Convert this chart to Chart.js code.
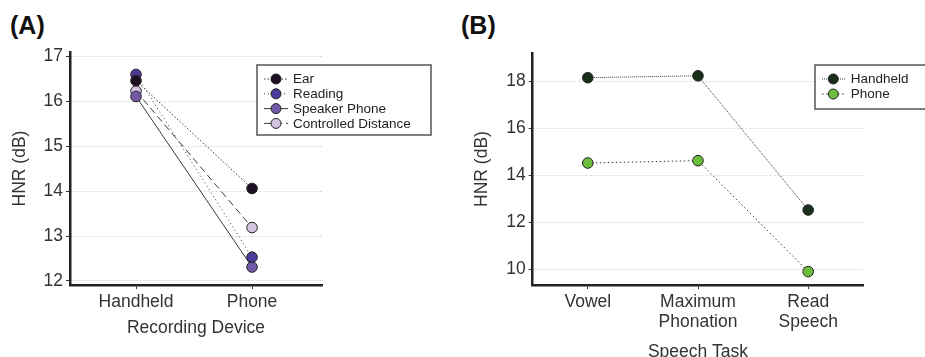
<!DOCTYPE html>
<html><head><meta charset="utf-8">
<script src="https://cdn.jsdelivr.net/npm/chart.js@4"></script>
<style>
html,body{margin:0;padding:0;background:#fff;overflow:hidden;width:925px;height:357px;position:relative}
.wrap{position:absolute;top:0}
.lbl{position:absolute;top:11px;line-height:24px;font:bold 25px "Liberation Sans",Arial,sans-serif;color:#111}
</style></head><body>
<div class="lbl" style="left:10px">(A)</div>
<div class="lbl" style="left:461px">(B)</div>
<div class="wrap" style="left:0;width:450px;height:380px"><canvas id="a"></canvas></div>
<div class="wrap" style="left:450px;width:475px;height:380px"><canvas id="b"></canvas></div>
<script>
// ---- data ----
const categoriesA = ['Handheld', 'Phone'];
const earA = [16.46, 14.06];
const readingA = [16.60, 12.53];
const speakerA = [16.11, 12.31];
const controlledA = [16.23, 13.19];
const seriesNamesA = ['Ear', 'Reading', 'Speaker Phone', 'Controlled Distance'];
const yTicksA = [12, 13, 14, 15, 16, 17];

const categoriesB = [['Vowel'], ['Maximum', 'Phonation'], ['Read', 'Speech']];
const handheldB = [18.15, 18.23, 12.52];
const phoneB = [14.52, 14.62, 9.90];
const seriesNamesB = ['Handheld', 'Phone'];
const yTicksB = [10, 12, 14, 16, 18];

// ---- styling ----
const FONT = '"Liberation Sans", Arial, sans-serif';
const TXT = '#333';
Chart.defaults.font.family = FONT;
Chart.defaults.color = TXT;

const boxLegend = {
  id: 'boxLegend',
  afterDraw(chart, args, o) {
    const ctx = chart.ctx;
    ctx.save();
    ctx.fillStyle = '#fff';
    ctx.fillRect(o.x, o.y, o.w, o.h);
    ctx.strokeStyle = '#555';
    ctx.lineWidth = 1.5;
    ctx.strokeRect(o.x, o.y, o.w, o.h);
    ctx.font = '13.5px ' + FONT;
    ctx.textBaseline = 'middle';
    ctx.textAlign = 'left';
    chart.data.datasets.forEach((ds, i) => {
      const y = o.y0 + i * o.dy;
      ctx.strokeStyle = ds.borderColor;
      ctx.lineWidth = 1;
      ctx.setLineDash(ds.borderDash || []);
      ctx.beginPath(); ctx.moveTo(o.lx0, y); ctx.lineTo(o.lx1, y); ctx.stroke();
      ctx.setLineDash([]);
      ctx.beginPath(); ctx.arc(o.mx, y, 5, 0, Math.PI * 2);
      ctx.fillStyle = ds.pointBackgroundColor; ctx.fill();
      ctx.strokeStyle = '#222'; ctx.stroke();
      ctx.fillStyle = '#222';
      ctx.fillText(ds.label, o.tx, y + 0.5);
    });
    ctx.restore();
  }
};

function yAxis(min, max, ticks, width, titlePad) {
  return {
    type: 'linear', min, max,
    afterBuildTicks: s => { s.ticks = ticks.map(v => ({ value: v })); },
    afterFit: s => { s.width = width; },
    border: { display: true, color: '#222', width: 2.5, dash: [2, 2] },
    grid: { color: '#d6d6d6', lineWidth: 1, tickColor: '#333', tickLength: 4, drawTicks: true },
    ticks: { padding: 3, color: TXT, font: { size: 17.5 } },
    title: { display: true, text: 'HNR (dB)', color: TXT, font: { size: 17.5 }, padding: { top: titlePad, bottom: 0 } }
  };
}

const lineCol = '#3a3a3a';
function ds(label, values, fill, dash, xs) {
  return {
    label,
    data: values.map((v, i) => xs ? { x: i + 1, y: v } : v),
    borderColor: lineCol, borderWidth: 1, borderDash: dash,
    pointBackgroundColor: fill, pointBorderColor: '#222', pointBorderWidth: 1,
    pointRadius: 5.3, pointHoverRadius: 5.3, tension: 0, fill: false
  };
}

new Chart(document.getElementById('a'), {
  type: 'line',
  data: {
    datasets: [
      ds(seriesNamesA[0], earA, '#1e0f22', [1.5, 2], true),
      ds(seriesNamesA[1], readingA, '#4a3a9a', [1, 3], true),
      ds(seriesNamesA[2], speakerA, '#7259aa', [], true),
      ds(seriesNamesA[3], controlledA, '#d5c4e1', [7, 4], true)
    ]
  },
  options: {
    responsive: true, maintainAspectRatio: false, animation: false, devicePixelRatio: 1,
    layout: { padding: { left: 0, top: 52, right: 128, bottom: 0 } },
    plugins: {
      legend: { display: false }, tooltip: { enabled: false },
      boxLegend: { x: 257, y: 65, w: 174, h: 70, y0: 79, dy: 14.8, lx0: 264, lx1: 288, mx: 276, tx: 293 }
    },
    scales: {
      x: {
        type: 'linear', min: 0.431, max: 2.603,
        afterBuildTicks: s => { s.ticks = categoriesA.map((c, i) => ({ value: i + 1 })); },
        afterFit: s => { s.height = 95; },
        border: { color: '#222', width: 2.5 },
        grid: { drawOnChartArea: false, tickColor: '#333', tickLength: 4 },
        ticks: { padding: 3, autoSkip: false, maxRotation: 0, color: TXT, font: { size: 17.5 },
                 callback: v => categoriesA[Math.round(v) - 1] },
        title: { display: true, text: 'Recording Device', color: TXT, font: { size: 17.5 }, padding: { top: 0, bottom: 41.5 } }
      },
      y: yAxis(11.91, 17.1, yTicksA, 70, 9.5)
    }
  },
  plugins: [boxLegend]
});

new Chart(document.getElementById('b'), {
  type: 'line',
  data: {
    labels: categoriesB,
    datasets: [
      ds(seriesNamesB[0], handheldB, '#1a301c', [1, 1], false),
      ds(seriesNamesB[1], phoneB, '#6cbd3e', [1.5, 2.5], false)
    ]
  },
  options: {
    responsive: true, maintainAspectRatio: false, animation: false, devicePixelRatio: 1,
    layout: { padding: { left: 0, top: 53, right: 61.7, bottom: 0 } },
    plugins: {
      legend: { display: false }, tooltip: { enabled: false },
      boxLegend: { x: 365, y: 65, w: 130, h: 44, y0: 79, dy: 15, lx0: 372, lx1: 396, mx: 383.3, tx: 400.7 }
    },
    scales: {
      x: {
        type: 'category', offset: true,
        afterFit: s => { s.height = 95; },
        border: { color: '#222', width: 2.5 },
        grid: { offset: false, drawOnChartArea: false, tickColor: '#333', tickLength: 4 },
        ticks: { padding: 3, autoSkip: false, maxRotation: 0, color: TXT, font: { size: 17.5, lineHeight: 1.15 } },
        title: { display: true, text: 'Speech Task', color: TXT, font: { size: 17.5 }, padding: { top: 0, bottom: 17.5 } }
      },
      y: yAxis(9.33, 19.2, yTicksB, 82.7, 21.8)
    }
  },
  plugins: [boxLegend]
});
</script>
</body></html>
